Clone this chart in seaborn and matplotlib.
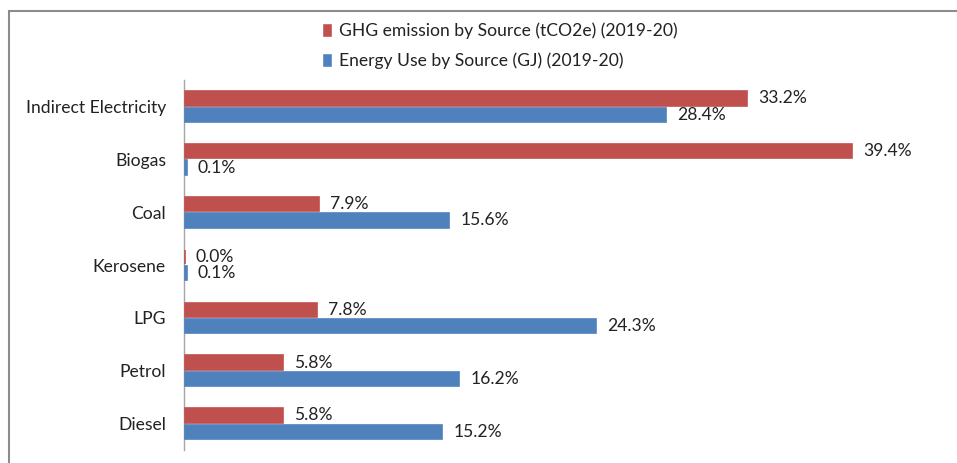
"""
GHG emission vs energy use by source (2019-20), horizontal grouped bars
"""

import pandas as pd
import matplotlib
matplotlib.use("Agg")
import matplotlib.pyplot as plt
from matplotlib.patches import Patch, Rectangle
import seaborn as sns

# Data
sources = ["Indirect Electricity", "Biogas", "Coal", "Kerosene", "LPG", "Petrol", "Diesel"]
ghg_share = [33.2, 39.4, 7.9, 0.0, 7.8, 5.8, 5.8]
energy_share = [28.4, 0.1, 15.6, 0.1, 24.3, 16.2, 15.2]
series_names = ["GHG emission by Source (tCO2e) (2019-20)", "Energy Use by Source (GJ) (2019-20)"]

RED = "#C0504D"
BLUE = "#4F81BD"
FS = 12.6

df = pd.DataFrame({
    "source": sources * 2,
    "share": ghg_share + energy_share,
    "series": [series_names[0]] * len(sources) + [series_names[1]] * len(sources),
})

sns.set_style("white")
plt.rcParams["font.family"] = ["Lato", "DejaVu Sans"]

fig = plt.figure(figsize=(9.57, 4.63), dpi=100)
ax = fig.add_axes([0.1923, 0.028, 0.7795, 0.799])

sns.barplot(
    data=df, y="source", x="share", hue="series",
    order=sources, hue_order=series_names,
    palette=[RED, BLUE], orient="h",
    width=0.62, gap=0.12, saturation=1, ax=ax, legend=False,
)

for container, color in zip(ax.containers, [RED, BLUE]):
    # thin outline so near-zero bars stay visible, like the original
    for bar in container:
        bar.set_edgecolor(color)
        bar.set_linewidth(1.2)
        bar.set_zorder(3)
    ax.bar_label(container, fmt="%.1f%%", padding=8, fontsize=FS, color="#222222")

ax.set_xlim(-0.05, 44)
ax.set_xlabel("")
ax.set_ylabel("")
ax.set_xticks([])
ax.tick_params(axis="y", length=0, pad=13, labelsize=FS, labelcolor="#222222")
for side in ["top", "right", "bottom"]:
    ax.spines[side].set_visible(False)
ax.spines["left"].set_color("#A6A6A6")
ax.spines["left"].set_linewidth(1.0)

# Legend stacked at the top
handles = [Patch(facecolor=RED), Patch(facecolor=BLUE)]
fig.legend(
    handles, series_names, loc="upper left", bbox_to_anchor=(0.320, 0.985),
    frameon=False, fontsize=FS, handlelength=0.6, handleheight=0.9,
    handletextpad=0.4, labelspacing=0.75, labelcolor="#222222",
)

# Outer chart border (cut off on right and bottom)
fig.patches.append(Rectangle(
    (9 / 957, -0.1), 1.5, 0.976 + 0.1, transform=fig.transFigure,
    fill=False, edgecolor="#8C8C8C", linewidth=1.5,
))

fig.savefig("out.png", dpi=100)
